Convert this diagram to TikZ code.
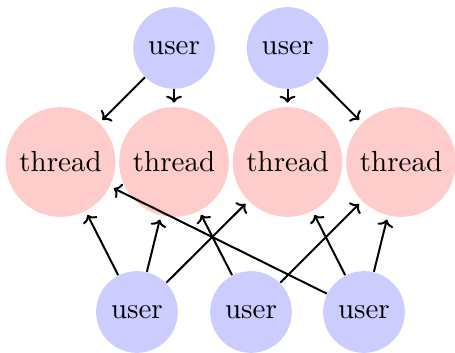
\documentclass[tikz,border=0pt]{standalone}
\usepackage{tikz}
\usetikzlibrary{arrows.meta}

\tikzset{
  user/.style={circle,fill=blue!20,minimum size=1.08cm,inner sep=0pt},
  thread/.style={circle,fill=red!20,minimum size=1.45cm,inner sep=0pt},
  uses/.style={-{To[length=2.6pt,width=6pt]},line width=0.75pt,shorten >=1.5pt}
}

\begin{document}
\begin{tikzpicture}[node font=\fontsize{10.9}{12}\selectfont]
  \useasboundingbox (0,0) rectangle (6.013,-4.652);
  \foreach \i/\x in {1/0.8,2/2.3,3/3.8,4/5.3}
    \node[thread] (thr\i) at (\x,-2.141) {thread};
  \node[user] (top1) at (2.3,-0.634) {user};
  \node[user] (top2) at (3.8,-0.634) {user};
  \foreach \i/\x in {1/1.81,2/3.317,3/4.81}
    \node[user] (bot\i) at (\x,-4.123) {user};
  \draw[uses] (top1) -- (thr1);
  \draw[uses] (top1) -- (thr2);
  \draw[uses] (top2) -- (thr3);
  \draw[uses] (top2) -- (thr4);
  \draw[uses] (bot1) -- (thr1);
  \draw[uses] (bot1) -- (thr2);
  \draw[uses] (bot1) -- (thr3);
  \draw[uses] (bot2) -- (thr2);
  \draw[uses] (bot2) -- (thr4);
  \draw[uses] (bot3) -- (thr1);
  \draw[uses] (bot3) -- (thr3);
  \draw[uses] (bot3) -- (thr4);
\end{tikzpicture}
\end{document}
